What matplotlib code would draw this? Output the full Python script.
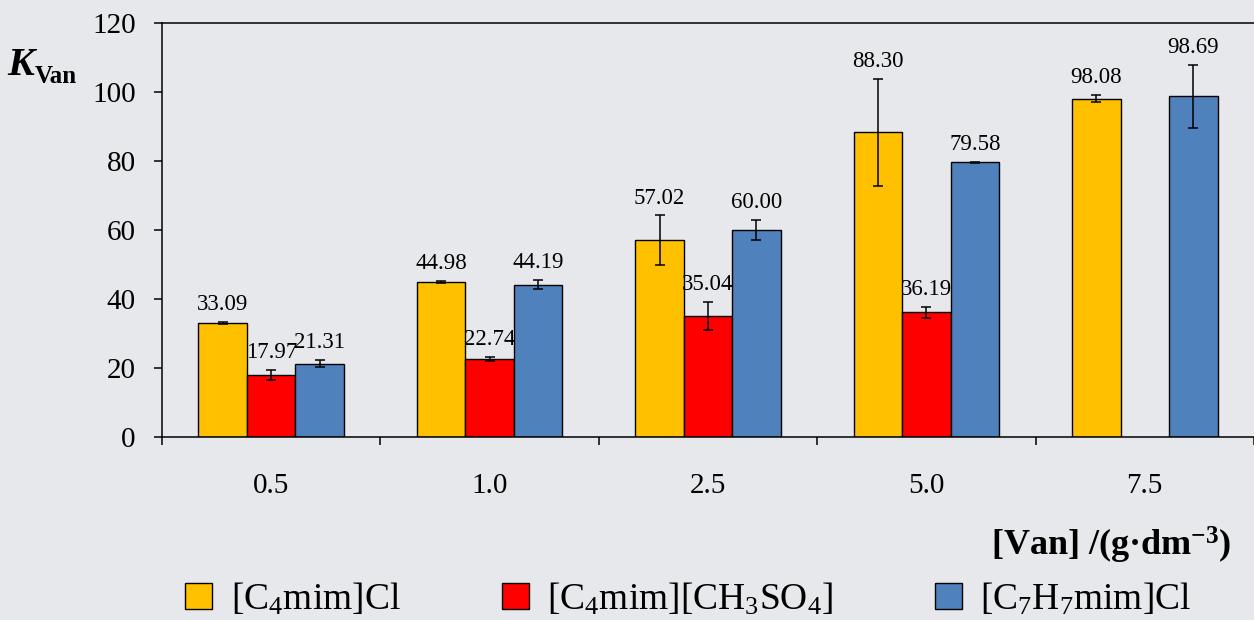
import numpy as np
import matplotlib
matplotlib.use("Agg")
import matplotlib.pyplot as plt
from matplotlib.patches import Patch

plt.rcParams["font.family"] = ["Liberation Serif", "DejaVu Serif"]
plt.rcParams["mathtext.fontset"] = "custom"
plt.rcParams["mathtext.rm"] = "Liberation Serif"
plt.rcParams["mathtext.it"] = "Liberation Serif:italic"
plt.rcParams["mathtext.bf"] = "Liberation Serif:bold"

# data
concentrations = ["0.5", "1.0", "2.5", "5.0", "7.5"]
c4mim_cl = [33.09, 44.98, 57.02, 88.30, 98.08]
c4mim_cl_err = [0.3, 0.25, 7.2, 15.5, 1.1]
c4mim_ch3so4 = [17.97, 22.74, 35.04, 36.19, np.nan]
c4mim_ch3so4_err = [1.35, 0.6, 4.0, 1.6, np.nan]
c7h7mim_cl = [21.31, 44.19, 60.00, 79.58, 98.69]
c7h7mim_cl_err = [0.95, 1.2, 3.0, 0.2, 9.2]

series = [
    ("[C$_\\mathrm{4}$mim]Cl", c4mim_cl, c4mim_cl_err, "#ffc000"),
    ("[C$_\\mathrm{4}$mim][CH$_\\mathrm{3}$SO$_\\mathrm{4}$]", c4mim_ch3so4, c4mim_ch3so4_err, "#ff0000"),
    ("[C$_\\mathrm{7}$H$_\\mathrm{7}$mim]Cl", c7h7mim_cl, c7h7mim_cl_err, "#4f81bd"),
]

bg = "#e7e8ec"
fig = plt.figure(figsize=(12.54, 6.2), dpi=100, facecolor=bg)
ax = fig.add_axes([0.1292, 0.295, 0.8708, 0.668])
ax.set_facecolor(bg)

x = np.arange(len(concentrations))
width = 0.222

handles = []
for i, (label, vals, errs, color) in enumerate(series):
    pos = x + (i - 1) * width
    vals = np.array(vals, dtype=float)
    errs = np.array(errs, dtype=float)
    ax.bar(pos, vals, width, color=color, edgecolor="black", linewidth=1.0, zorder=2)
    ax.errorbar(pos, vals, yerr=errs, fmt="none", ecolor="black",
                elinewidth=1.1, capsize=3.6, capthick=1.1, zorder=3)
    for px, v, e in zip(pos, vals, errs):
        if np.isnan(v):
            continue
        ax.annotate(f"{v:.2f}", (px, v + e), xytext=(0, 5), textcoords="offset points",
                    ha="center", va="bottom", fontsize=16.5)
    handles.append(Patch(facecolor=color, edgecolor="black", linewidth=1.0, label=label))

ax.set_ylim(0, 120)
ax.set_yticks(range(0, 121, 20))
ax.set_xlim(-0.5, -0.5 + (1254 - 162) / 220)
ax.set_xticks(np.arange(-0.5, len(concentrations), 1.0))
ax.set_xticklabels([])
ax.set_xticks(x, minor=True)
ax.set_xticklabels(concentrations, minor=True)

ax.tick_params(axis="y", direction="out", length=6, width=1.1, pad=13, labelsize=21)
ax.tick_params(axis="x", which="major", direction="out", length=6, width=1.1)
ax.tick_params(axis="x", which="minor", length=0, pad=26, labelsize=21)

for side in ["left", "bottom", "top"]:
    ax.spines[side].set_linewidth(1.1)
ax.spines["right"].set_visible(False)

# axis titles
fig.text(7 / 1254, 1 - 75 / 620, "K", fontsize=29, fontweight="bold", fontstyle="italic",
         ha="left", va="baseline")
fig.text(35 / 1254, 1 - 83 / 620, "Van", fontsize=18, fontweight="bold",
         ha="left", va="baseline")
fig.text(0.982, 0.121, "[Van] /(g·dm$^{\\mathbf{-3}}$)", fontsize=26, fontweight="bold",
         ha="right", va="center")

fig.legend(handles=handles, loc="center left", bbox_to_anchor=(185 / 1254, 0.034),
           ncol=3, frameon=False, fontsize=27, handlelength=0.72, handleheight=0.72,
           handletextpad=0.5, columnspacing=2.7, borderaxespad=0, borderpad=0)

fig.savefig("out.png", dpi=100, facecolor=bg)
